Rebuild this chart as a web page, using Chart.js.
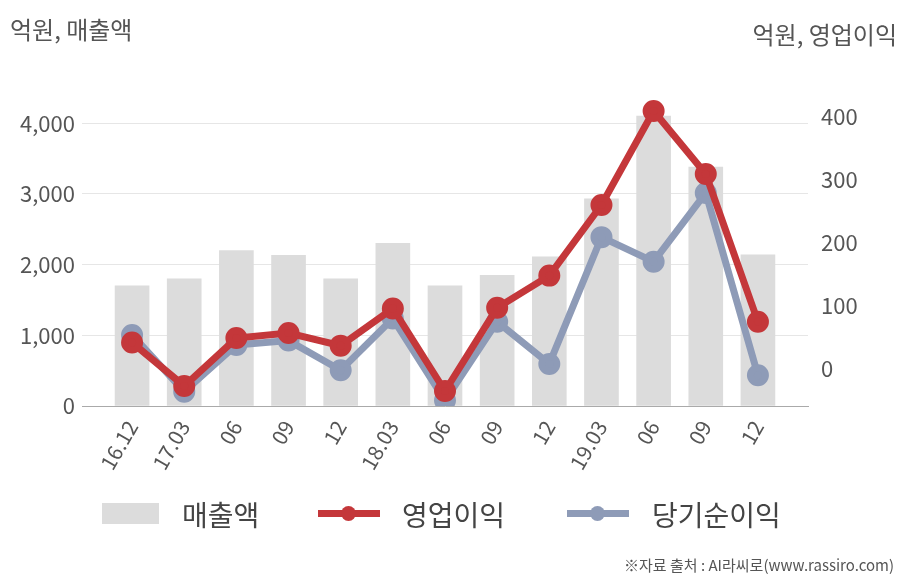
<!DOCTYPE html>
<html>
<head>
<meta charset="utf-8">
<script src="https://cdn.jsdelivr.net/npm/chart.js@4"></script>
<style>
  body { margin: 0; background: #fff; font-family: "Noto Sans CJK KR", "Noto Sans", sans-serif; }
  #wrap { position: relative; width: 908px; height: 580px; }
  .title { position: absolute; font-size: 24px; color: #555; top: 11px; }
  #legend { position: absolute; top: 494px; left: 0; width: 908px; height: 40px; font-size: 28px; color: #444; }
  .lg { position: absolute; top: 0; line-height: 40px; }
  .sw { position: absolute; }
  #src { position: absolute; right: 14px; top: 554px; font-size: 15px; color: #555; }
</style>
</head>
<body>
<div id="wrap">
  <canvas id="salesChart" width="908" height="580"></canvas>
  <div class="title" style="left:10px">억원, 매출액</div>
  <div class="title" style="right:11px; top:16px">억원, 영업이익</div>
  <div id="legend">
    <div class="sw" style="left:102px; top:9px; width:57px; height:21px; background:#dcdcdc"></div>
    <div class="lg" style="left:182px">매출액</div>
    <div class="sw" style="left:318px; top:16px; width:62px; height:7px; background:#c4373a"></div>
    <div class="sw" style="left:341px; top:12px; width:15px; height:15px; border-radius:50%; background:#c4373a"></div>
    <div class="lg" style="left:402px">영업이익</div>
    <div class="sw" style="left:567px; top:16px; width:62px; height:7px; background:#8e9bb7"></div>
    <div class="sw" style="left:590px; top:12px; width:15px; height:15px; border-radius:50%; background:#8e9bb7"></div>
    <div class="lg" style="left:652px">당기순이익</div>
  </div>
  <div id="src">※자료 출처 : AI라씨로(www.rassiro.com)</div>
</div>
<script>
// 분기 라벨
const labels = ['16.12', '17.03', '06', '09', '12', '18.03', '06', '09', '12', '19.03', '06', '09', '12'];
// 매출액 (억원, 왼쪽 축)
const sales = [1700, 1800, 2200, 2130, 1800, 2300, 1700, 1850, 2110, 2930, 4100, 3380, 2140];
// 영업이익 (억원, 오른쪽 축)
const opProfit = [42, -27, 49, 57, 37, 96, -35, 97, 148, 260, 409, 309, 75];
// 당기순이익 (억원, 오른쪽 축)
const netProfit = [54, -36, 38, 45, -2, 80, -50, 75, 8, 209, 170, 279, -10];
const leftTicks = [0, 1000, 2000, 3000, 4000];
const rightTicks = [0, 100, 200, 300, 400];

const pts = arr => arr.map((v, i) => ({ x: i, y: v }));
const tickFont = { family: "'Noto Sans CJK KR', 'Noto Sans', sans-serif", size: 22 };

const config = {
    type: 'bar',
    data: {
        datasets: [
            {
                type: 'line',
                label: '영업이익',
                data: pts(opProfit),
                yAxisID: 'y2',
                borderColor: '#c4373a',
                backgroundColor: '#c4373a',
                borderWidth: 7,
                pointRadius: 7.5,
                pointHoverRadius: 7.5,
                tension: 0,
                order: 1
            },
            {
                type: 'line',
                label: '당기순이익',
                data: pts(netProfit),
                yAxisID: 'y2',
                borderColor: '#8e9bb7',
                backgroundColor: '#8e9bb7',
                borderWidth: 7,
                pointRadius: 7.5,
                pointHoverRadius: 7.5,
                tension: 0,
                order: 2
            },
            {
                label: '매출액',
                data: pts(sales),
                yAxisID: 'y',
                backgroundColor: '#dcdcdc',
                barThickness: 34,
                order: 3
            }
        ]
    },
    options: {
        responsive: false,
        animation: false,
        layout: { padding: { top: 95, left: 0, right: 0, bottom: 0 } },
        plugins: { legend: { display: false }, tooltip: { enabled: false } },
        scales: {
            x: {
                type: 'linear',
                offset: false,
                min: -0.96,
                max: 12.96,
                grid: { display: false },
                border: { display: true, color: '#aaaaaa', width: 1 },
                afterBuildTicks: axis => { axis.ticks = labels.map((_, i) => ({ value: i })); },
                afterFit: axis => { axis.height = 174; },
                ticks: {
                    autoSkip: false,
                    minRotation: 60,
                    maxRotation: 60,
                    padding: 2,
                    color: '#555',
                    font: { family: tickFont.family, size: 21 },
                    callback: v => labels[v]
                }
            },
            y: {
                position: 'left',
                min: 0,
                max: 4400,
                grid: { color: '#e6e6e6', drawTicks: false },
                border: { display: false },
                afterBuildTicks: axis => { axis.ticks = leftTicks.map(v => ({ value: v })); },
                afterFit: axis => { axis.width = 82; },
                ticks: {
                    padding: 7,
                    color: '#555',
                    font: tickFont,
                    callback: v => v.toLocaleString('en-US')
                }
            },
            y2: {
                position: 'right',
                min: -58.7,
                max: 434.3,
                grid: { display: false },
                border: { display: false },
                afterBuildTicks: axis => { axis.ticks = rightTicks.map(v => ({ value: v })); },
                afterFit: axis => { axis.width = 100; },
                ticks: {
                    padding: 5,
                    color: '#555',
                    font: tickFont
                }
            }
        }
    }
};

const salesChart = new Chart(document.getElementById('salesChart'), config);
</script>
</body>
</html>
